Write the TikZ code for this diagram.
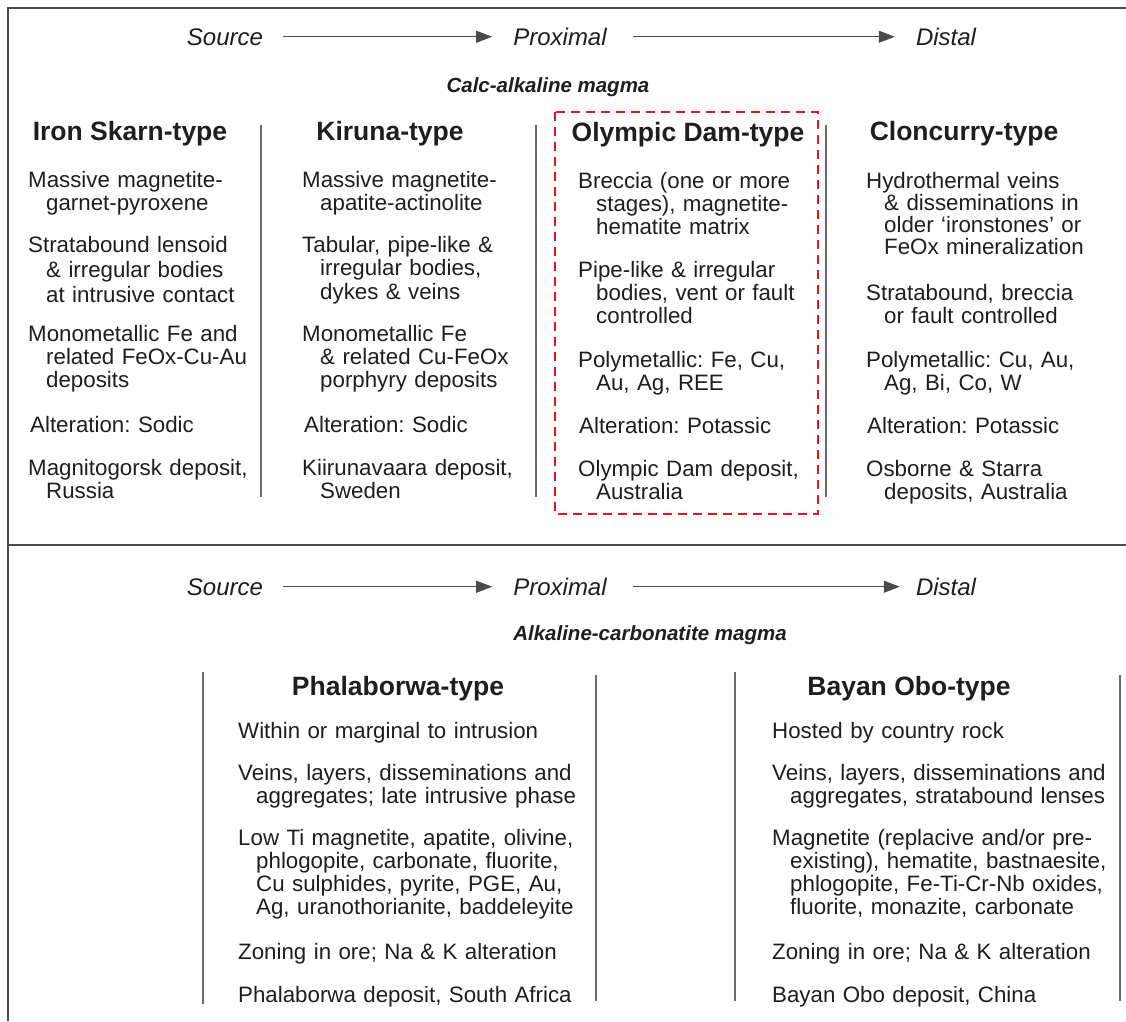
\documentclass[tikz,border=0pt]{standalone}
\usepackage{fontspec}
\setmainfont{Liberation Sans}
\usetikzlibrary{arrows.meta}
\definecolor{ink}{HTML}{1E1E1E}
\definecolor{rulegray}{HTML}{4A4A4A}
\definecolor{sepgray}{HTML}{6A6A6A}
\definecolor{boxred}{HTML}{E8141B}
\newcommand{\hgi}{\hspace*{18pt}}
\begin{document}
\frenchspacing
\begin{tikzpicture}[x=1pt,y=-1pt,
  frameline/.style={draw=rulegray, line width=1.6pt},
  sepline/.style={draw=sepgray, line width=1.5pt},
  head/.style={anchor=base, inner sep=0pt, font=\fontsize{26.5}{28}\selectfont\bfseries, text=ink},
  flow/.style={anchor=base, inner sep=0pt, font=\fontsize{24}{26}\selectfont\itshape, text=ink},
  magma/.style={anchor=base, inner sep=0pt, font=\fontsize{20.5}{22}\selectfont\bfseries\itshape, text=ink},
  para/.style={anchor=base west, inner sep=0pt, text width=360pt, align=left, font=\fontsize{22.3}{23}\selectfont, text=ink},
  flowarrow/.style={draw=rulegray, line width=1.1pt, -{Triangle[length=16pt,width=12pt]}, shorten <=20pt, shorten >=21pt},
  redbox/.style={draw=boxred, line width=2.4pt, dash pattern=on 9pt off 6pt}
]
\useasboundingbox (0,0) rectangle (1126,1021);
\fill[white] (0,0) rectangle (1126,1021);

% frame
\draw[frameline] (8,1021) -- (8,8) -- (1126,8);
\draw[frameline] (8,545) -- (1126,545);

% ---------- top section ----------
\node[flow] (src1) at (225,45) {Source};
\node[flow] (prox1) at (560,45) {Proximal};
\node[flow] (dist1) at (946,45) {Distal};
\draw[flowarrow] (src1.east) -- (src1.east -| prox1.west);
\draw[flowarrow, shorten <=26pt] (prox1.east |- src1.east) -- (src1.east -| dist1.west);
\node[magma] (calc) at (548,92) {Calc-alkaline magma};

\node[head] (h1) at (130,140) {Iron Skarn-type};
\node[head] (h2) at (390,140) {Kiruna-type};
\node[head] (h3) at (688,141) {Olympic Dam-type};
\node[head] (h4) at (964,140) {Cloncurry-type};

% column separators
\coordinate (s1t) at (261,125); \coordinate (s1b) at (261,497);
\coordinate (s2t) at (536,125); \coordinate (s2b) at (536,497);
\coordinate (s3t) at (826,125); \coordinate (s3b) at (826,497);
\draw[sepline] (s1t) -- (s1b);
\draw[sepline] (s2t) -- (s2b);
\draw[sepline] (s3t) -- (s3b);

% column 1
\node[para] (a1) at (28,187) {Massive magnetite-\\\hgi garnet-pyroxene};
\node[para, font=\fontsize{22.3}{25}\selectfont] (a2) at (28,252) {Stratabound lensoid\\\hgi\& irregular bodies\\\hgi at intrusive contact};
\node[para] (a3) at (28,341) {Monometallic Fe and\\\hgi related FeOx-Cu-Au\\\hgi deposits};
\node[para] (a4) at (30,432) {Alteration: Sodic};
\node[para] (a5) at (28,475) {Magnitogorsk deposit,\\\hgi Russia};

% column 2
\node[para] (b1) at (302,187) {Massive magnetite-\\\hgi apatite-actinolite};
\node[para, font=\fontsize{22.3}{23.5}\selectfont] (b2) at (302,252) {Tabular, pipe-like \&\\\hgi irregular bodies,\\\hgi dykes \& veins};
\node[para] (b3) at (302,341) {Monometallic Fe\\\hgi\& related Cu-FeOx\\\hgi porphyry deposits};
\node[para] (b4) at (304,432) {Alteration: Sodic};
\node[para] (b5) at (302,475) {Kiirunavaara deposit,\\\hgi Sweden};

% column 3 (highlighted)
\node[para] (c1) at (578,188) {Breccia (one or more\\\hgi stages), magnetite-\\\hgi hematite matrix};
\node[para] (c2) at (578,277) {Pipe-like \& irregular\\\hgi bodies, vent or fault\\\hgi controlled};
\node[para] (c3) at (578,367) {Polymetallic: Fe, Cu,\\\hgi Au, Ag, REE};
\node[para] (c4) at (579,433) {Alteration: Potassic};
\node[para] (c5) at (578,476) {Olympic Dam deposit,\\\hgi Australia};
\draw[redbox] (555,112) rectangle (818,514);

% column 4
\node[para, font=\fontsize{22.3}{22.3}\selectfont] (d1) at (866,188) {Hydrothermal veins\\\hgi\& disseminations in\\\hgi older ‘ironstones’ or\\\hgi FeOx mineralization};
\node[para] (d2) at (866,300) {Stratabound, breccia\\\hgi or fault controlled};
\node[para] (d3) at (866,367) {Polymetallic: Cu, Au,\\\hgi Ag, Bi, Co, W};
\node[para] (d4) at (867,433) {Alteration: Potassic};
\node[para] (d5) at (866,476) {Osborne \& Starra\\\hgi deposits, Australia};

% ---------- bottom section ----------
\node[flow] (src2) at (225,595) {Source};
\node[flow] (prox2) at (560,595) {Proximal};
\node[flow] (dist2) at (946,595) {Distal};
\draw[flowarrow] (src2.east) -- (src2.east -| prox2.west);
\draw[flowarrow, shorten <=26pt, shorten >=16pt] (prox2.east |- src2.east) -- (src2.east -| dist2.west);
\node[magma] (alk) at (650,640) {Alkaline-carbonatite magma};

\node[head] (h5) at (398,695) {Phalaborwa-type};
\node[head] (h6) at (909,695) {Bayan Obo-type};

\coordinate (t1t) at (203,672); \coordinate (t1b) at (203,1004);
\coordinate (t2t) at (596,675); \coordinate (t2b) at (596,1001);
\coordinate (t3t) at (735,672); \coordinate (t3b) at (735,1001);
\coordinate (t4t) at (1120,675); \coordinate (t4b) at (1120,1001);
\draw[sepline] (t1t) -- (t1b);
\draw[sepline] (t2t) -- (t2b);
\draw[sepline] (t3t) -- (t3b);
\draw[sepline] (t4t) -- (t4b);

\node[para] (p1) at (238,738) {Within or marginal to intrusion};
\node[para] (p2) at (238,780) {Veins, layers, disseminations and\\\hgi aggregates; late intrusive phase};
\node[para] (p3) at (238,845) {Low Ti magnetite, apatite, olivine,\\\hgi phlogopite, carbonate, fluorite,\\\hgi Cu sulphides, pyrite, PGE, Au,\\\hgi Ag, uranothorianite, baddeleyite};
\node[para] (p4) at (238,959) {Zoning in ore; Na \& K alteration};
\node[para] (p5) at (238,1002) {Phalaborwa deposit, South Africa};

\node[para] (q1) at (772,738) {Hosted by country rock};
\node[para] (q2) at (772,780) {Veins, layers, disseminations and\\\hgi aggregates, stratabound lenses};
\node[para] (q3) at (772,845) {Magnetite (replacive and/or pre-\\\hgi existing), hematite, bastnaesite,\\\hgi phlogopite, Fe-Ti-Cr-Nb oxides,\\\hgi fluorite, monazite, carbonate};
\node[para] (q4) at (772,959) {Zoning in ore; Na \& K alteration};
\node[para] (q5) at (772,1002) {Bayan Obo deposit, China};
\end{tikzpicture}
\end{document}
